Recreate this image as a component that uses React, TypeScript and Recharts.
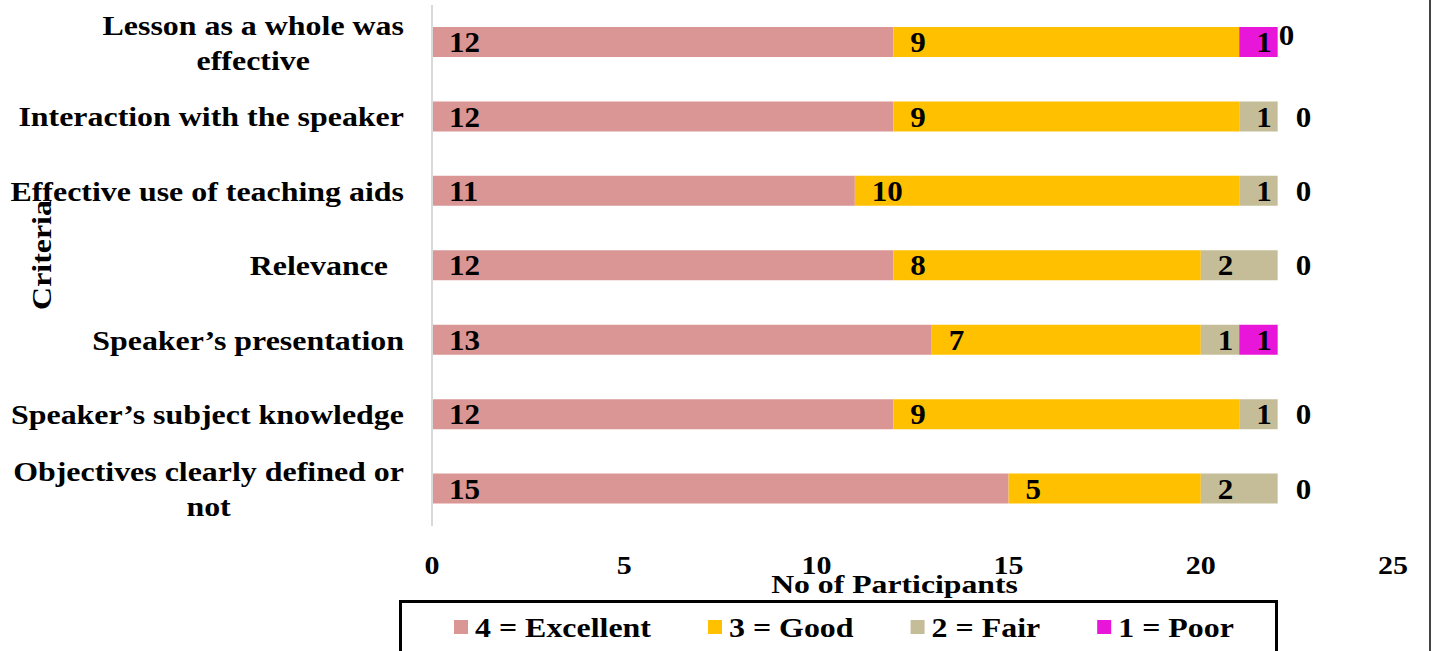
import React from 'react';
import { BarChart, Bar, XAxis, YAxis, Legend, LabelList, Label } from 'recharts';

const criteria = [
  'Lesson as a whole was\neffective',
  'Interaction with the speaker',
  'Effective use of teaching aids',
  'Relevance\u00a0\u00a0',
  'Speaker’s presentation',
  'Speaker’s subject knowledge',
  'Objectives clearly defined or\nnot',
];
const excellent = [12, 12, 11, 12, 13, 12, 15];
const good = [9, 9, 10, 8, 7, 9, 5];
const fair = [0, 1, 1, 2, 1, 1, 2];
const poor = [1, 0, 0, 0, 1, 0, 0];
const xTicks = [0, 5, 10, 15, 20, 25];

const series = [
  { key: 'excellent', name: '4 = Excellent', color: '#D99694' },
  { key: 'good', name: '3 = Good', color: '#FFC000' },
  { key: 'fair', name: '2 = Fair', color: '#C4BD97' },
  { key: 'poor', name: '1 = Poor', color: '#E816D9' },
];

const data = criteria.map((name, i) => ({
  name,
  excellent: excellent[i],
  good: good[i],
  fair: fair[i],
  poor: poor[i],
}));

const SERIF = "'Liberation Serif', 'Times New Roman', serif";

const measureCtx =
  typeof document !== 'undefined' ? document.createElement('canvas').getContext('2d') : null;
const textWidth = (s: string, size: number) => {
  if (!measureCtx) return s.length * size * 0.5;
  measureCtx.font = `bold ${size}px ${SERIF}`;
  return measureCtx.measureText(s).width;
};

// the reference text is a bit stretched sideways, so text gets a horizontal scale
const SText = (props: any) => {
  const { x, y, size, sx = 1, anchor = 'start', rotate = 0, dy, children } = props;
  return (
    <g transform={`translate(${x},${y}) rotate(${rotate}) scale(${sx},1)`}>
      <text
        x={0}
        y={0}
        dy={dy}
        fill="#000"
        fontFamily={SERIF}
        fontWeight="bold"
        fontSize={size}
        textAnchor={anchor}
        style={{ whiteSpace: 'pre' }}
      >
        {children}
      </text>
    </g>
  );
};

const Y_SIZE = 28;
const Y_SX = 1.14;

const CriteriaTick = (props: any) => {
  const { x, y, payload } = props;
  const lines = String(payload.value).split('\n');
  const lineH = 35;
  const widest = Math.max(...lines.map((l) => textWidth(l, Y_SIZE))) * Y_SX;
  const cx = x - widest / 2;
  const y0 = y - ((lines.length - 1) * lineH) / 2;
  return (
    <g>
      {lines.map((l, i) => (
        <SText key={i} x={cx} y={y0 + i * lineH} dy="0.35em" size={Y_SIZE} sx={Y_SX} anchor="middle">
          {l}
        </SText>
      ))}
    </g>
  );
};

const NumberTick = (props: any) => {
  const { x, y, payload } = props;
  return (
    <SText x={x} y={y + 46} size={25} sx={1.2} anchor="middle">
      {payload.value}
    </SText>
  );
};

const LBL_SIZE = 29;
const LBL_SX = 1.07;

const makeLabel = (key: string) => (props: any) => {
  const { x, y, width, height, value, index } = props;
  if (value == null || value === 0) return null;
  const cy = Number(y) + Number(height) / 2;
  const own = (
    <SText x={Number(x) + 17} y={cy} dy="0.35em" size={LBL_SIZE} sx={LBL_SX}>
      {value}
    </SText>
  );
  if (key !== 'excellent') return own;
  // zero segments have no rectangle, so their labels hang off the end of the stack
  const perUnit = Number(width) / Number(value);
  const total = excellent[index] + good[index] + fair[index] + poor[index];
  const end = Number(x) + total * perUnit;
  return (
    <g>
      {own}
      {fair[index] === 0 && poor[index] !== 0 && (
        <SText x={end + 1} y={cy - 7} dy="0.35em" size={LBL_SIZE} sx={LBL_SX}>
          {fair[index]}
        </SText>
      )}
      {poor[index] === 0 && (
        <SText x={end + 18} y={cy} dy="0.35em" size={LBL_SIZE} sx={LBL_SX}>
          {poor[index]}
        </SText>
      )}
    </g>
  );
};

const LEG_SIZE = 28;
const LEG_SX = 1.14;

const LegendBox = () => {
  let cursor = 52;
  const items = series.map((s) => {
    const x = cursor;
    cursor += 14 + 7 + textWidth(s.name, LEG_SIZE) * LEG_SX + 57;
    return { ...s, x };
  });
  return (
    <svg width={873} height={48} style={{ display: 'block' }}>
      {items.map((s) => (
        <g key={s.key}>
          <rect x={s.x} y={17} width={14} height={14} fill={s.color} />
          <SText x={s.x + 21} y={24} dy="0.35em" size={LEG_SIZE} sx={LEG_SX}>
            {s.name}
          </SText>
        </g>
      ))}
    </svg>
  );
};

const App = () => {
  return (
    <div style={{ position: 'absolute', left: 0, top: 0, width: 1432, height: 651, background: '#fff' }}>
      <BarChart
        width={1432}
        height={651}
        data={data}
        layout="vertical"
        margin={{ top: 5, right: 39, left: 0, bottom: 0 }}
      >
        <XAxis
          type="number"
          domain={[0, 25]}
          ticks={xTicks}
          axisLine={false}
          tickLine={false}
          tickSize={0}
          height={125}
          tick={<NumberTick />}
        >
          <Label
            content={(p: any) => {
              const vb = p.viewBox;
              return (
                <SText x={vb.x + vb.width / 2 - 18} y={vb.y + 67} size={26} sx={1.22} anchor="middle">
                  No of Participants
                </SText>
              );
            }}
          />
        </XAxis>
        <YAxis
          type="category"
          dataKey="name"
          width={432}
          axisLine={{ stroke: '#D9D9D9', strokeWidth: 2 }}
          tickLine={false}
          tickSize={0}
          tickMargin={28}
          interval={0}
          tick={<CriteriaTick />}
        >
          <Label
            content={() => (
              <SText x={41} y={255} dy="0.35em" rotate={-90} size={28} sx={1.14} anchor="middle">
                Criteria
              </SText>
            )}
          />
        </YAxis>
        <Legend
          verticalAlign="middle"
          content={<LegendBox />}
          wrapperStyle={{
            position: 'absolute',
            left: 399,
            top: 600,
            width: 879,
            height: 54,
            border: '3px solid #000',
            boxSizing: 'border-box',
            background: '#fff',
          }}
        />
        {series.map((s) => (
          <Bar key={s.key} dataKey={s.key} name={s.name} stackId="a" fill={s.color} barSize={30} isAnimationActive={false}>
            <LabelList dataKey={s.key} content={makeLabel(s.key)} />
          </Bar>
        ))}
      </BarChart>
      <div style={{ position: 'absolute', left: 1429, top: 0, width: 2, height: 651, background: '#444' }} />
    </div>
  );
};

export default App;
